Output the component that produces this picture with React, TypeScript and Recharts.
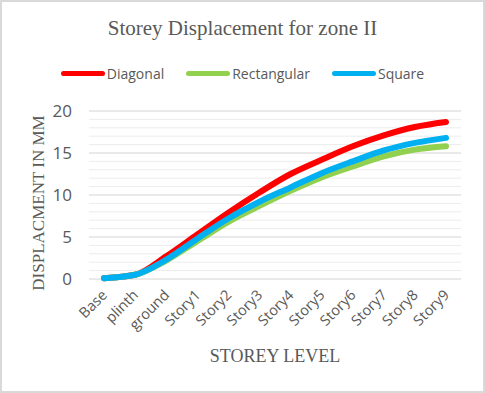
import { LineChart, Line, XAxis, YAxis, CartesianGrid, ReferenceLine } from "recharts"

const storeys = ["Base", "plinth", "ground", "Story1", "Story2", "Story3", "Story4", "Story5", "Story6", "Story7", "Story8", "Story9"]
const diagonal = [0.1, 0.5, 2.7, 5.3, 7.9, 10.3, 12.5, 14.2, 15.8, 17.1, 18.1, 18.7]
const rectangular = [0.1, 0.5, 2.2, 4.5, 6.8, 8.7, 10.5, 12.1, 13.4, 14.6, 15.4, 15.8]
const square = [0.1, 0.5, 2.3, 4.8, 7.2, 9.2, 10.9, 12.6, 14.0, 15.3, 16.2, 16.8]
const yTicks = [0, 5, 10, 15, 20]
const minorTicks = [1, 2, 3, 4, 6, 7, 8, 9, 11, 12, 13, 14, 16, 17, 18, 19]

const series = [
  { key: "Diagonal", color: "#ff0000" },
  { key: "Rectangular", color: "#92d050" },
  { key: "Square", color: "#00b0f0" },
]

const data = storeys.map((s, i) => ({
  name: s,
  Diagonal: diagonal[i],
  Rectangular: rectangular[i],
  Square: square[i],
}))

const gray = "#595959"

function XTick(props: any) {
  const { x, y, payload } = props
  return (
    <text
      x={x + 4}
      y={y + 9}
      transform={`rotate(-45, ${x + 4}, ${y + 9})`}
      textAnchor="end"
      fill={gray}
      fontSize={14.5}
      fontFamily="'Open Sans', sans-serif"
    >
      {payload.value}
    </text>
  )
}

export default function App() {
  return (
    <div
      style={{
        position: "absolute",
        top: 0,
        left: 0,
        width: 485,
        height: 393,
        boxSizing: "border-box",
        border: "2px solid #d9d9d9",
        background: "#fff",
      }}
    >
      <div
        style={{
          position: "absolute",
          top: 14,
          left: 0,
          width: 481,
          textAlign: "center",
          fontFamily: "'Liberation Serif', serif",
          fontSize: 21,
          color: gray,
        }}
      >
        Storey Displacement for zone II
      </div>
      <div
        style={{
          position: "absolute",
          top: 62,
          left: 0,
          width: 481,
          display: "flex",
          justifyContent: "center",
          gap: 22,
          fontFamily: "'Open Sans', sans-serif",
          fontSize: 14,
          color: gray,
        }}
      >
        {series.map((s) => (
          <div key={s.key} style={{ display: "flex", alignItems: "center", gap: 2 }}>
            <span style={{ width: 44, height: 5, borderRadius: 3, background: s.color }} />
            <span>{s.key}</span>
          </div>
        ))}
      </div>
      <div
        style={{
          position: "absolute",
          left: 37,
          top: 201,
          transform: "translate(-50%, -50%) rotate(-90deg)",
          whiteSpace: "nowrap",
          fontFamily: "'Liberation Serif', serif",
          fontSize: 17,
          color: gray,
        }}
      >
        DISPLACMENT IN MM
      </div>
      <div
        style={{
          position: "absolute",
          left: 273,
          top: 354,
          transform: "translate(-50%, -50%)",
          whiteSpace: "nowrap",
          fontFamily: "'Liberation Serif', serif",
          fontSize: 18,
          color: gray,
        }}
      >
        STOREY LEVEL
      </div>
      <div style={{ position: "absolute", top: -2, left: -2 }}>
        <LineChart
          width={485}
          height={393}
          data={data}
          margin={{ top: 111, right: 24, bottom: 54, left: 0 }}
        >
          {minorTicks.map((v) => (
            <ReferenceLine key={v} y={v} stroke="#ececec" strokeWidth={1} />
          ))}
          <CartesianGrid vertical={false} stroke="#d4d4d4" strokeWidth={1} />
          <XAxis
            dataKey="name"
            height={60}
            axisLine={false}
            tickLine={false}
            interval={0}
            padding={{ left: 15, right: 15 }}
            tick={<XTick />}
          />
          <YAxis
            width={89}
            domain={[0, 20]}
            ticks={yTicks}
            axisLine={false}
            tickLine={false}
            tickMargin={11}
            tick={{ fill: gray, fontSize: 17, fontFamily: "'Open Sans', sans-serif" }}
          />
          {series.map((s) => (
            <Line
              key={s.key}
              type="monotone"
              dataKey={s.key}
              stroke={s.color}
              strokeWidth={6}
              strokeLinecap="round"
              dot={false}
              isAnimationActive={false}
            />
          ))}
        </LineChart>
      </div>
    </div>
  )
}
